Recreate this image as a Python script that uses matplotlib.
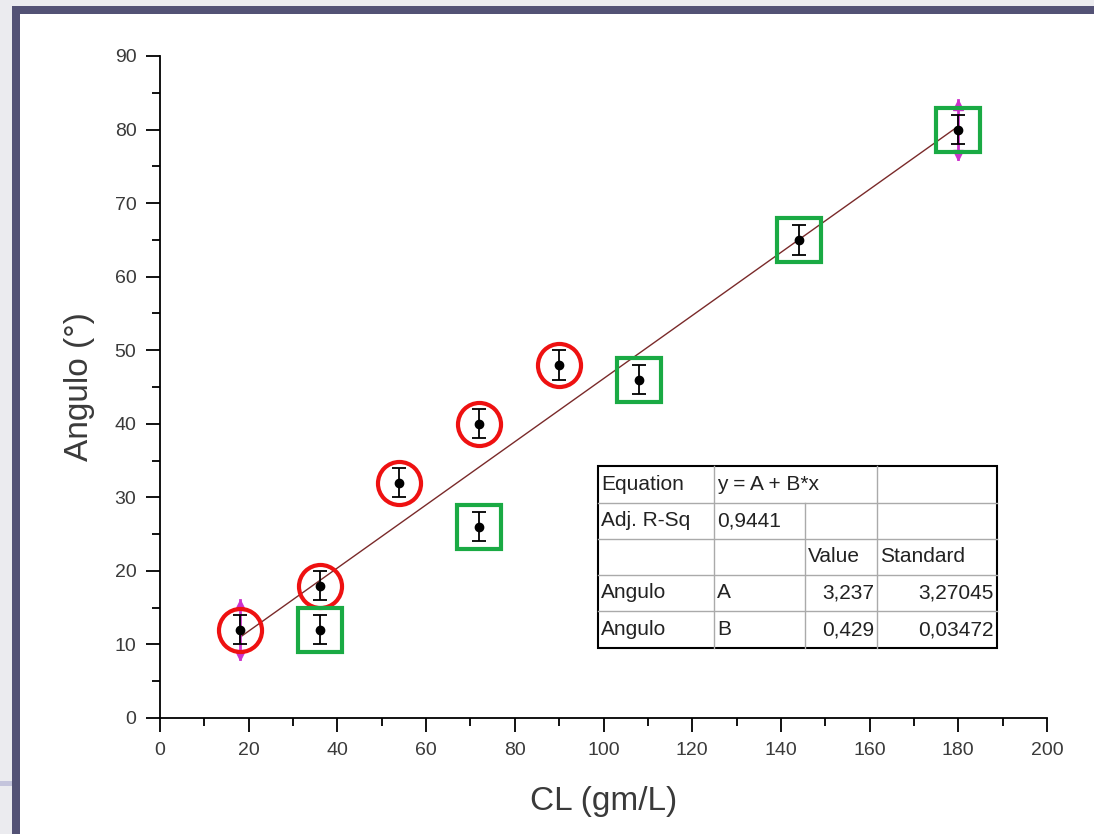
#! /usr/bin/env python3

import numpy as np
import matplotlib.pyplot as plt
from matplotlib.patches import Rectangle
from matplotlib.ticker import MultipleLocator

plt.rcParams['font.family'] = ['Liberation Sans', 'DejaVu Sans']

# data
cl = [18, 36, 54, 72, 90, 36, 72, 108, 144, 180]
angulo = [12, 18, 32, 40, 48, 12, 26, 46, 65, 80]
err = [4, 2, 2, 2, 2, 2, 2, 2, 2, 4]

# points marked with red circles / green squares
circle_x = [18, 36, 54, 72, 90]
circle_y = [12, 18, 32, 40, 48]
square_x = [36, 72, 108, 144, 180]
square_y = [12, 26, 46, 65, 80]

# points with the magenta arrow error bars
arrow_x = [18, 180]
arrow_y = [12, 80]
arrow_err = [4, 4]

# linear fit y = A + B*x
fit_a = 3.237
fit_b = 0.429

table_rows = [
    ["Equation", "y = A + B*x", "", ""],
    ["Adj. R-Sq", "0,9441", "", ""],
    ["", "", "Value", "Standard"],
    ["Angulo", "A", "3,237", "3,27045"],
    ["Angulo", "B", "0,429", "0,03472"],
]


def main():
    fig = plt.figure(figsize=(10.94, 8.34), dpi=100)
    fig.patch.set_facecolor('#ebebef')
    W, H = 1094, 834

    # white page with dark border (screenshot look)
    fig.patches.append(Rectangle((20 / W, 0), 1, 1 - 14 / H, transform=fig.transFigure,
                                 facecolor='white', edgecolor='none', zorder=-2))
    fig.patches.append(Rectangle((12 / W, 0), 8 / W, 1 - 6 / H, transform=fig.transFigure,
                                 facecolor='#535275', edgecolor='none', zorder=-1))
    fig.patches.append(Rectangle((12 / W, 1 - 14 / H), 1, 8 / H, transform=fig.transFigure,
                                 facecolor='#535275', edgecolor='none', zorder=-1))
    fig.patches.append(Rectangle((0, 1 - 786 / H), 12 / W, 5 / H, transform=fig.transFigure,
                                 facecolor='#c4c4dc', edgecolor='none', zorder=-1))

    ax = fig.add_axes([160 / W, 1 - 718 / H, 887 / W, 662 / H])
    ax.set_zorder(1)
    ax.set_facecolor('none')
    ax.set_xlim(0, 200)
    ax.set_ylim(0, 90)
    for s in ['top', 'right']:
        ax.spines[s].set_visible(False)
    for s in ['left', 'bottom']:
        ax.spines[s].set_linewidth(1.3)
    ax.xaxis.set_major_locator(MultipleLocator(20))
    ax.xaxis.set_minor_locator(MultipleLocator(10))
    ax.yaxis.set_major_locator(MultipleLocator(10))
    ax.yaxis.set_minor_locator(MultipleLocator(5))
    ax.tick_params(which='major', direction='out', length=10, width=1.3,
                   labelsize=14, labelcolor='#3a3a3a', pad=7)
    ax.tick_params(which='minor', direction='out', length=6, width=1.3)

    # fit line
    fx = np.array([min(cl), max(cl)])
    ax.plot(fx, fit_a + fit_b * fx, color='#7a2a2a', lw=1.0, zorder=2)

    # black error bars and points
    ax.errorbar(cl, angulo, yerr=[2] * len(cl), fmt='o', color='black', ms=6,
                ecolor='black', elinewidth=1.3, capsize=5, capthick=1.3, zorder=3)

    # magenta arrow error bars
    for x, y, e in zip(arrow_x, arrow_y, arrow_err):
        ax.plot([x, x], [y - e, y + e], color='#cc33cc', lw=2, zorder=2)
        ax.plot([x], [y + e - 0.6], marker='^', color='#cc33cc', ms=7, zorder=2)
        ax.plot([x], [y - e + 0.6], marker='v', color='#cc33cc', ms=7, zorder=2)

    # red circles and green squares
    ax.plot(circle_x, circle_y, 'o', ms=31, mfc='none', mec='#ee1111', mew=3, zorder=4)
    ax.plot(square_x, square_y, 's', ms=31, mfc='none', mec='#1aaa44', mew=3,
            zorder=4)

    ax.set_xlabel('CL (gm/L)', fontsize=24, color='#3a3a3a', labelpad=20)
    ax.set_ylabel('Angulo (°)', fontsize=24, color='#3a3a3a', labelpad=14)

    # parameter table
    col_x = [598, 714, 805, 877, 997]
    row_y = [466, 503, 539, 575, 611, 648]
    for i, row in enumerate(table_rows):
        for j, txt in enumerate(row):
            if not txt:
                continue
            yc = (row_y[i] + row_y[i + 1]) / 2
            numeric = i >= 3 and j >= 2
            if numeric:
                xt, ha = col_x[j + 1] - 3, 'right'
            else:
                xt, ha = col_x[j] + 3, 'left'
            fig.text(xt / W, 1 - yc / H, txt, ha=ha, va='center', fontsize=15,
                     color='#222222', zorder=6)
    # grid lines
    for k in range(1, len(row_y) - 1):
        fig.add_artist(plt.Line2D([col_x[0] / W, col_x[-1] / W],
                                  [1 - row_y[k] / H] * 2, color='#aaaaaa', lw=1,
                                  zorder=5))
    for k in range(1, len(col_x) - 1):
        y0 = row_y[1] if k == 2 else row_y[0]
        fig.add_artist(plt.Line2D([col_x[k] / W] * 2,
                                  [1 - y0 / H, 1 - row_y[-1] / H], color='#aaaaaa', lw=1,
                                  zorder=5))
    fig.patches.append(Rectangle((col_x[0] / W, 1 - row_y[-1] / H),
                                 (col_x[-1] - col_x[0]) / W, (row_y[-1] - row_y[0]) / H,
                                 transform=fig.transFigure, facecolor='white',
                                 edgecolor='black', lw=1.5, zorder=4))

    fig.savefig('out.png', dpi=100)


if __name__ == "__main__":
    main()
